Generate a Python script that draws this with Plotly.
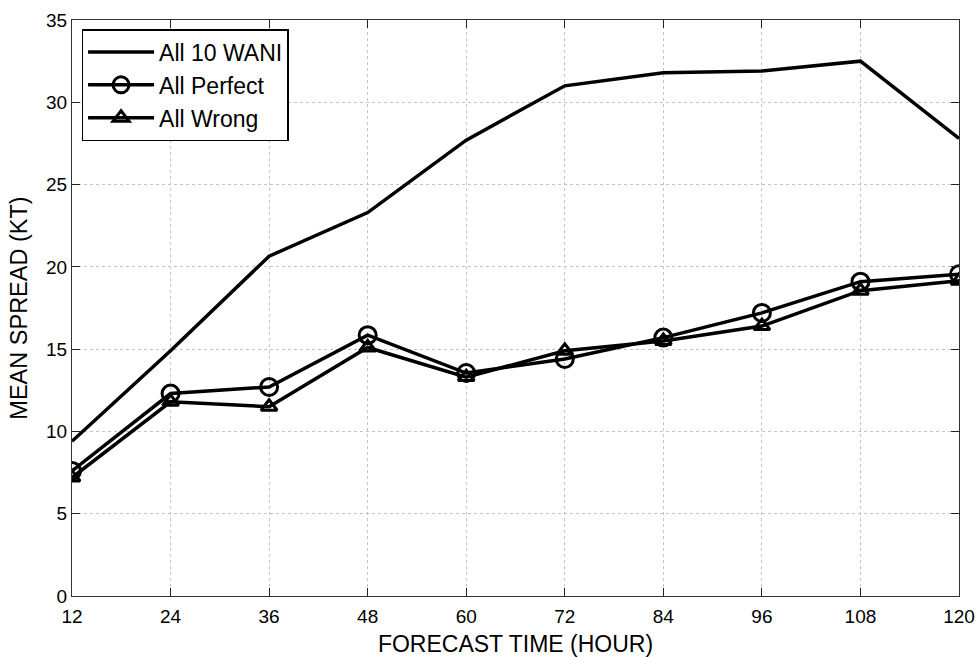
import plotly.graph_objects as go

hours = [12, 24, 36, 48, 60, 72, 84, 96, 108, 120]
all_wani = [9.4, 14.9, 20.65, 23.3, 27.7, 31.0, 31.8, 31.9, 32.5, 27.8]
all_perfect = [7.6, 12.3, 12.7, 15.85, 13.55, 14.4, 15.7, 17.2, 19.1, 19.55]
all_wrong = [7.2, 11.8, 11.5, 15.1, 13.3, 14.9, 15.5, 16.4, 18.55, 19.15]
x_ticks = hours
y_ticks = [0, 5, 10, 15, 20, 25, 30, 35]

font = "Liberation Sans, Arial, Helvetica, sans-serif"

fig = go.Figure()
fig.add_trace(go.Scatter(x=hours, y=all_wani, mode="lines", name="All 10 WANI",
                         line=dict(color="black", width=3.5)))
fig.add_trace(go.Scatter(x=hours, y=all_perfect, mode="lines+markers", name="All Perfect",
                         line=dict(color="black", width=3.5),
                         marker=dict(symbol="circle-open", size=17, color="black",
                                     line=dict(width=3, color="black"))))
fig.add_trace(go.Scatter(x=hours, y=all_wrong, mode="lines+markers", name="All Wrong",
                         line=dict(color="black", width=3.5),
                         marker=dict(symbol="triangle-up-open", size=14, color="black",
                                     line=dict(width=3, color="black"))))

axis_common = dict(
    showline=True, linecolor="#333", linewidth=1.3, mirror="ticks",
    ticks="inside", ticklen=8, tickcolor="#222", tickwidth=1.3,
    showgrid=True, gridcolor="#c4c4c4", griddash="dot", gridwidth=1,
    zeroline=False, automargin=False,
    tickfont=dict(family=font, size=19, color="black"),
)

fig.update_layout(
    width=977, height=657,
    margin=dict(l=72, r=18, t=20, b=61),
    paper_bgcolor="white", plot_bgcolor="white",
    font=dict(family=font, color="black"),
    xaxis=dict(range=[12, 120], tickvals=x_ticks, ticklabelstandoff=3,
               title=dict(text="FORECAST TIME (HOUR)", font=dict(family=font, size=23), standoff=11),
               **axis_common),
    yaxis=dict(range=[0, 35], tickvals=y_ticks,
               title=dict(text="MEAN SPREAD (KT)", font=dict(family=font, size=23.5), standoff=11),
               **axis_common),
    legend=dict(x=0.011, y=0.984, xanchor="left", yanchor="top",
                bgcolor="white", bordercolor="black", borderwidth=1.3,
                font=dict(family=font, size=23, color="black"),
                itemwidth=66, tracegroupgap=0),
    showlegend=True,
)

fig.write_html("out.html")
